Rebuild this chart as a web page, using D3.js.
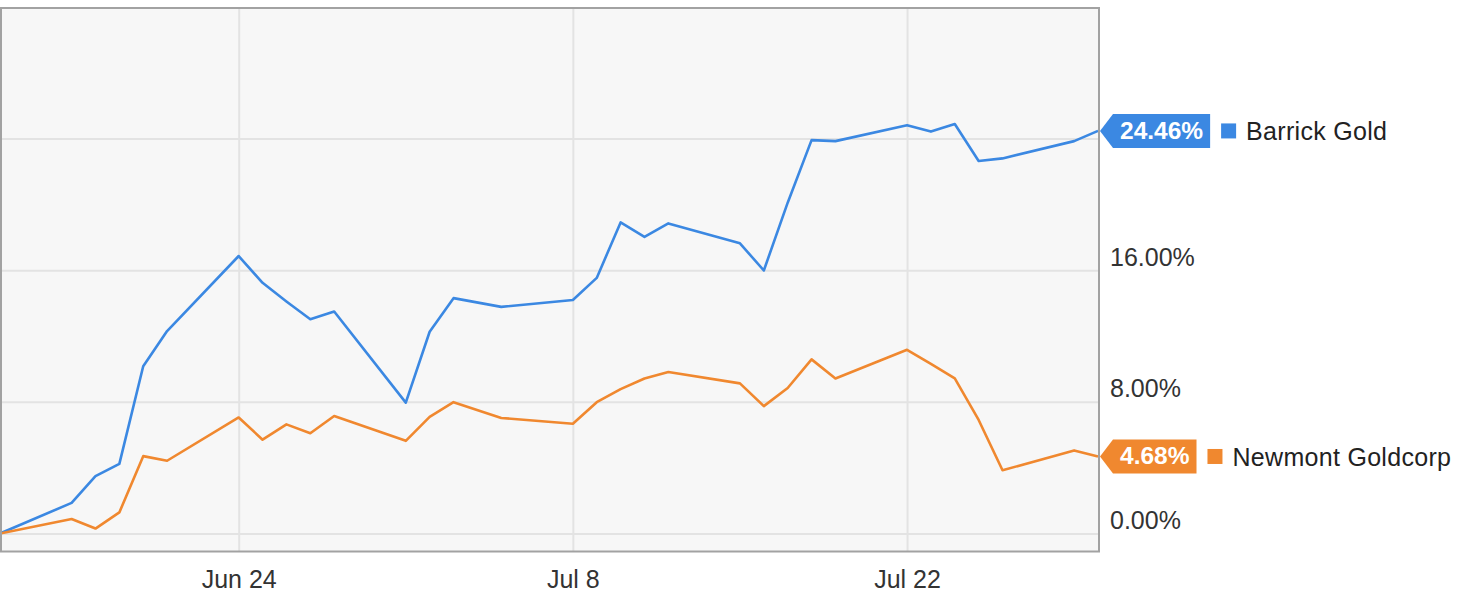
<!DOCTYPE html>
<html><head><meta charset="utf-8">
<script src="https://cdn.jsdelivr.net/npm/d3@7"></script>
<style>
body{margin:0;background:#fff;}
svg{display:block;font-family:"Liberation Sans",Arial,Helvetica,sans-serif;}
</style>
</head><body>
<svg id="c" width="1461" height="600"></svg>
<script>
// ---- data ----
const dates = ["2019-06-14","2019-06-17","2019-06-18","2019-06-19","2019-06-20","2019-06-21",
  "2019-06-24","2019-06-25","2019-06-26","2019-06-27","2019-06-28",
  "2019-07-01","2019-07-02","2019-07-03","2019-07-05",
  "2019-07-08","2019-07-09","2019-07-10","2019-07-11","2019-07-12",
  "2019-07-15","2019-07-16","2019-07-17","2019-07-18","2019-07-19",
  "2019-07-22","2019-07-23","2019-07-24","2019-07-25","2019-07-26",
  "2019-07-29","2019-07-30"];
const barrick = [0, 1.86, 3.49, 4.23, 10.16, 12.3,
  16.86, 15.23, 14.1, 13.02, 13.49,
  7.95, 12.26, 14.30, 13.77,
  14.19, 15.53, 18.9, 18.02, 18.84,
  17.63, 15.98, 20.1, 23.9, 23.84,
  24.81, 24.42, 24.88, 22.63, 22.79,
  23.84, 24.46];
const newmont = [0, 0.88, 0.30, 1.28, 4.70, 4.42,
  7.05, 5.70, 6.63, 6.09, 7.14,
  5.63, 7.09, 7.98, 7.02,
  6.67, 7.98, 8.77, 9.42, 9.81,
  9.12, 7.74, 8.84, 10.58, 9.42,
  11.16, 10.3, 9.42, 6.9, 3.84,
  5.05, 4.68];
const seriesNames = ["Barrick Gold", "Newmont Goldcorp"];
const seriesValues = [barrick, newmont];
const seriesColors = ["#3b88e2", "#f0882f"];
const yTickValues = [0, 8, 16, 24];
const xTickDates = ["2019-06-24", "2019-07-08", "2019-07-22"];
const xTickLabels = ["Jun 24", "Jul 8", "Jul 22"];

// ---- layout ----
const parse = d3.timeParse("%Y-%m-%d");
const plot = {left: 1, right: 1099, top: 8, bottom: 551.5};
const svg = d3.select("#c");

const x = d3.scaleTime()
  .domain([parse(dates[0]), parse(dates[dates.length - 1])])
  .range([0, 1098]);
const y = d3.scaleLinear().domain([0, 24]).range([533.5, 138.5]);

// plot background
svg.append("rect")
  .attr("x", plot.left).attr("y", plot.top)
  .attr("width", plot.right - plot.left).attr("height", plot.bottom - plot.top)
  .attr("fill", "#f7f7f7");

// x axis + vertical grid
const xAxis = svg.append("g")
  .attr("transform", `translate(0,${plot.bottom})`)
  .call(d3.axisBottom(x)
    .tickValues(xTickDates.map(parse))
    .tickSize(-(plot.bottom - plot.top))
    .tickFormat((d, i) => xTickLabels[i]));
xAxis.select(".domain").remove();
xAxis.selectAll(".tick line").attr("stroke", "#e3e3e3").attr("stroke-width", 2);
xAxis.selectAll(".tick text")
  .attr("y", 36).attr("dy", 0)
  .attr("fill", "#333").attr("font-size", 25)
  .attr("font-family", "'Liberation Sans',Arial,sans-serif");

// y axis + horizontal grid
const yAxis = svg.append("g")
  .attr("transform", `translate(${plot.right},0)`)
  .call(d3.axisRight(y)
    .tickValues(yTickValues)
    .tickSize(-(plot.right - plot.left))
    .tickFormat(d => d.toFixed(2) + "%"));
yAxis.select(".domain").remove();
yAxis.selectAll(".tick line").attr("stroke", "#e3e3e3").attr("stroke-width", 2);
yAxis.selectAll(".tick text")
  .attr("x", 11).attr("dy", -5)
  .attr("text-anchor", "start")
  .attr("fill", "#333").attr("font-size", 25)
  .attr("font-family", "'Liberation Sans',Arial,sans-serif");

// lines
const line = d3.line()
  .x((d, i) => x(parse(dates[i])))
  .y(d => y(d));
seriesValues.forEach((vals, s) => {
  svg.append("path")
    .datum(vals)
    .attr("d", line)
    .attr("fill", "none")
    .attr("stroke", seriesColors[s])
    .attr("stroke-width", 2.6)
    .attr("stroke-linejoin", "round");
});

// plot border
svg.append("rect")
  .attr("x", plot.left).attr("y", plot.top)
  .attr("width", plot.right - plot.left).attr("height", plot.bottom - plot.top)
  .attr("fill", "none").attr("stroke", "#a2a2a2").attr("stroke-width", 2);

// callouts + legend
const callYs = [];
seriesValues.forEach((vals, s) => {
  const v = vals[vals.length - 1];
  const yv = y(v);
  callYs.push(yv);
  const tip = plot.right + 1;
  const g = svg.append("g");
  const path = g.append("path").attr("fill", seriesColors[s]);
  const t = g.append("text")
    .text(v.toFixed(2) + "%")
    .attr("font-size", 24.5).attr("font-weight", "bold")
    .attr("fill", "#fff").attr("text-anchor", "middle")
    .attr("y", yv).attr("dy", "0.31em");
  const w = t.node().getComputedTextLength();
  const bx0 = tip + 13, bx1 = bx0 + w + 14, h = 17;
  path.attr("d", `M${tip},${yv} L${bx0},${yv - h} L${bx1},${yv - h} L${bx1},${yv + h} L${bx0},${yv + h} Z`);
  t.attr("x", (bx0 + bx1) / 2);
  const sq = bx1 + 11;
  g.append("rect").attr("x", sq).attr("y", yv - 7.5)
    .attr("width", 15).attr("height", 15).attr("fill", seriesColors[s]);
  g.append("text").text(seriesNames[s])
    .attr("x", sq + 25).attr("y", yv).attr("dy", "0.38em")
    .attr("font-size", 25).attr("letter-spacing", 0.3)
    .attr("fill", "#222");
});

// hide y tick labels overlapped by callouts
yAxis.selectAll(".tick").each(function(d) {
  const ty = y(d) - 14;
  if (callYs.some(cy => Math.abs(cy - ty) < 24)) d3.select(this).select("text").remove();
});
</script>
</body></html>
